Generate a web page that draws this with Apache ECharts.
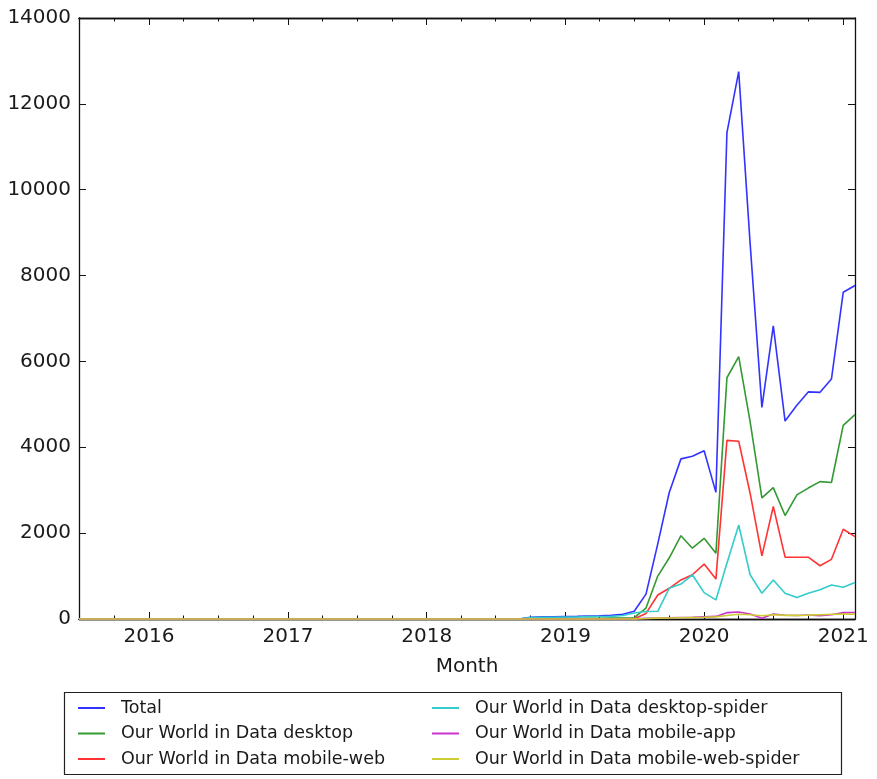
<!DOCTYPE html>
<html><head><meta charset="utf-8">
<script src="https://cdn.jsdelivr.net/npm/echarts@6/dist/echarts.min.js"></script>
<style>html,body{margin:0;padding:0;background:#fff}#c{width:877px;height:779px}</style>
</head><body><div id="c"></div>
<script>
const months = [
 '2015-07','2015-08','2015-09','2015-10','2015-11','2015-12',
 '2016-01','2016-02','2016-03','2016-04','2016-05','2016-06','2016-07','2016-08','2016-09','2016-10','2016-11','2016-12',
 '2017-01','2017-02','2017-03','2017-04','2017-05','2017-06','2017-07','2017-08','2017-09','2017-10','2017-11','2017-12',
 '2018-01','2018-02','2018-03','2018-04','2018-05','2018-06','2018-07','2018-08','2018-09','2018-10','2018-11','2018-12',
 '2019-01','2019-02','2019-03','2019-04','2019-05','2019-06','2019-07','2019-08','2019-09','2019-10','2019-11','2019-12',
 '2020-01','2020-02','2020-03','2020-04','2020-05','2020-06','2020-07','2020-08','2020-09','2020-10','2020-11','2020-12',
 '2021-01','2021-02'
];
const total = [
 0,0,0,0,0,0, 0,0,0,0,0,0,0,0,0,0,0,0, 0,0,0,0,0,0,0,0,0,0,0,0, 0,0,0,0,0,0,0,0,0,40,50,50,
 55,60,70,75,85,110,180,580,1750,2940,3730,3790,
 3920,2950,11330,12750,8750,4930,6830,4610,4980,5290,5280,5590,
 7610,7770
];
const desktop = [
 0,0,0,0,0,0, 0,0,0,0,0,0,0,0,0,0,0,0, 0,0,0,0,0,0,0,0,0,0,0,0, 0,0,0,0,0,0,0,0,0,5,10,10,
 10,12,15,15,20,25,30,255,1000,1420,1940,1650,
 1880,1530,5620,6110,4600,2820,3060,2410,2890,3050,3200,3180,
 4510,4760
];
const mobileWeb = [
 0,0,0,0,0,0, 0,0,0,0,0,0,0,0,0,0,0,0, 0,0,0,0,0,0,0,0,0,0,0,0, 0,0,0,0,0,0,0,0,0,0,0,0,
 0,0,0,0,0,0,5,130,560,715,910,1030,
 1280,930,4160,4140,2930,1470,2620,1440,1440,1440,1240,1390,
 2090,1920
];
const desktopSpider = [
 0,0,0,0,0,0, 0,0,0,0,0,0,0,0,0,0,0,0, 0,0,0,0,0,0,0,0,0,0,0,0, 0,0,0,0,0,0,0,0,0,35,40,40,
 45,48,55,58,62,80,140,175,180,715,815,1030,
 615,445,1300,2190,1030,600,910,600,500,600,680,790,
 740,850
];
const mobileApp = [
 0,0,0,0,0,0, 0,0,0,0,0,0,0,0,0,0,0,0, 0,0,0,0,0,0,0,0,0,0,0,0, 0,0,0,0,0,0,0,0,0,0,0,0,
 0,0,0,0,0,0,3,15,25,30,35,40,
 50,60,148,163,117,20,117,86,80,93,78,100,
 148,150
];
const mobileWebSpider = [
 0,0,0,0,0,0, 0,0,0,0,0,0,0,0,0,0,0,0, 0,0,0,0,0,0,0,0,0,0,0,0, 0,0,0,0,0,0,0,0,0,0,0,0,
 0,0,0,0,0,0,2,10,20,25,30,35,
 40,50,80,110,100,75,100,85,85,90,100,110,
 115,110
];
const seriesNames = ['Total','Our World in Data desktop','Our World in Data mobile-web',
  'Our World in Data desktop-spider','Our World in Data mobile-app','Our World in Data mobile-web-spider'];
const seriesColors = ['#3333ff','#339933','#ff3333','#33cccc','#cc33cc','#cccc33'];
const yearLabels = ['2016','2017','2018','2019','2020','2021'];
const quarterMonths = ['2015-10','2016-04','2016-07','2016-10','2017-04','2017-07','2017-10',
  '2018-04','2018-07','2018-10','2019-04','2019-07','2019-10','2020-04','2020-07','2020-10'];
const yTicks = [0,2000,4000,6000,8000,10000,12000,14000];

function ts(s){ const p = s.split('-'); return Date.UTC(+p[0], (+p[1]||1)-1, 1); }
const yearTs = yearLabels.map(y => ts(y + '-01'));
const quarterTs = quarterMonths.map(ts);
const xMin = ts(months[0]), xMax = ts(months[months.length-1]);
const FONT = 'DejaVu Sans';
const AX = '#111';
const allData = [total, desktop, mobileWeb, desktopSpider, mobileApp, mobileWebSpider];

function xAx(pos, major, showLabel, withName){
  const a = {
    type:'value', gridIndex:0, position:pos, min:xMin, max:xMax, scale:true,
    splitLine:{show:false},
    axisLine:{show:true, onZero:false, lineStyle:{color:AX, width:1.3}},
    axisTick:{show:true, inside:true, length: major?7:3.5, lineStyle:{color:AX, width:1},
      customValues: major ? yearTs : quarterTs},
    axisLabel:{show:showLabel, customValues: yearTs, margin:8, fontSize:20, fontFamily:FONT, color:'#1a1a1a',
      formatter: v => { const i = yearTs.indexOf(+v); return i>=0 ? yearLabels[i] : ''; }}
  };
  if (withName) {
    a.name = 'Month'; a.nameLocation = 'middle'; a.nameGap = 38;
    a.nameTextStyle = {fontSize:20, fontFamily:FONT, color:'#1a1a1a'};
  }
  return a;
}

const chart = echarts.init(document.getElementById('c'), null, {renderer:'canvas'});
chart.setOption({
  animation:false,
  backgroundColor:'#fff',
  grid:{left:79, right:22, top:18, bottom:160, containLabel:false},
  xAxis:[ xAx('bottom', true, true, true), xAx('bottom', false, false, false),
          xAx('top', true, false, false), xAx('top', false, false, false) ],
  yAxis:[
    {type:'value', min:0, max:14000, interval:2000, position:'left',
     splitLine:{show:false},
     axisLine:{show:true, lineStyle:{color:AX, width:1.3}},
     axisTick:{show:true, inside:true, length:7, lineStyle:{color:AX}},
     axisLabel:{margin:8, fontSize:20, fontFamily:FONT, color:'#1a1a1a',
       formatter: v => { const i = yTicks.indexOf(v); return i>=0 ? String(yTicks[i]) : String(v); }}},
    {type:'value', min:0, max:14000, interval:2000, position:'right',
     splitLine:{show:false},
     axisLine:{show:true, lineStyle:{color:AX, width:1.3}},
     axisTick:{show:true, inside:true, length:7, lineStyle:{color:AX}},
     axisLabel:{show:false}}
  ],
  legend:[
    {orient:'vertical', left:78, top:698, padding:0, itemWidth:27, itemHeight:2, itemGap:5.5, icon:'rect',
     selectedMode:false, data: seriesNames.slice(0,3),
     textStyle:{fontSize:17.5, fontFamily:FONT, color:'#1a1a1a', lineHeight:20, padding:[0,0,0,11]}},
    {orient:'vertical', left:432, top:698, padding:0, itemWidth:27, itemHeight:2, itemGap:5.5, icon:'rect',
     selectedMode:false, data: seriesNames.slice(3),
     textStyle:{fontSize:17.5, fontFamily:FONT, color:'#1a1a1a', lineHeight:20, padding:[0,0,0,11]}}
  ],
  graphic:[{type:'rect', shape:{x:64.5, y:692.5, width:777, height:82},
    style:{fill:'none', stroke:'#222', lineWidth:1.2}, silent:true}],
  series: seriesNames.map((n,i) => ({
    name:n, type:'line', xAxisIndex:0, yAxisIndex:0, symbol:'none', showSymbol:false, clip:false,
    color: seriesColors[i], itemStyle:{color:seriesColors[i]},
    lineStyle:{color:seriesColors[i], width:1.6},
    data: months.map((m,k) => [ts(m), allData[i][k]])
  }))
});
</script></body></html>
